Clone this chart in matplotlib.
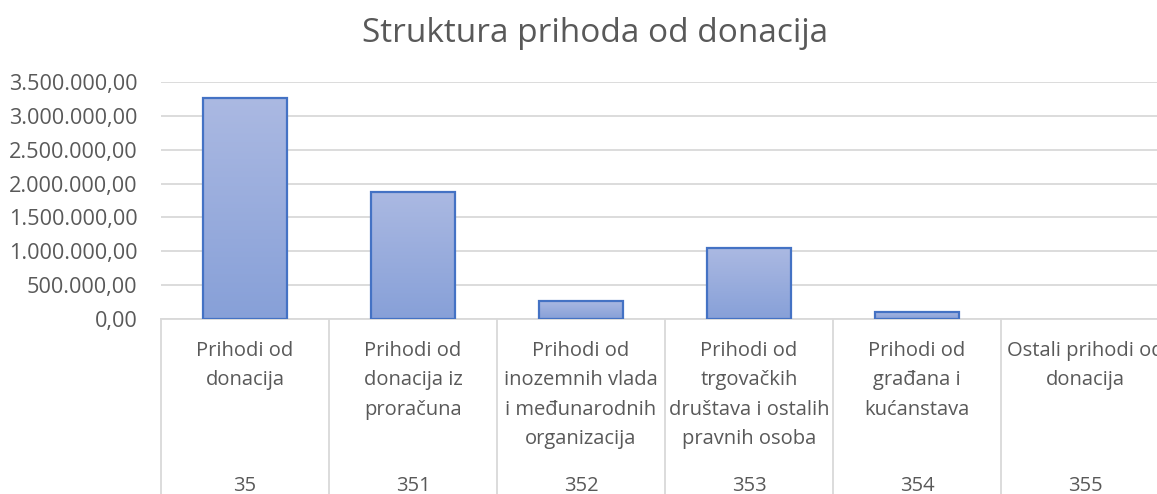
import matplotlib
matplotlib.use("Agg")
import matplotlib.pyplot as plt
import numpy as np
from matplotlib.ticker import FuncFormatter, MultipleLocator
from matplotlib.transforms import blended_transform_factory

codes = ["35", "351", "352", "353", "354", "355"]
names = ["Prihodi od\ndonacija",
         "Prihodi od\ndonacija iz\nproračuna",
         "Prihodi od\ninozemnih vlada\ni međunarodnih\norganizacija",
         "Prihodi od\ntrgovačkih\ndruštava i ostalih\npravnih osoba",
         "Prihodi od\ngrađana i\nkućanstava",
         "Ostali prihodi od\ndonacija"]
values = [3268000, 1880000, 270000, 1044000, 108000, 0]
title = "Struktura prihoda od donacija"

plt.rcParams['font.family'] = ['Open Sans', 'DejaVu Sans']
W, H = 1157, 494
fig = plt.figure(figsize=(W / 100, H / 100), dpi=100)
fig.patch.set_facecolor("white")

left_px, right_px, top_px, bot_px = 161, 1169, 82, 319
ax = fig.add_axes([left_px / W, (H - bot_px) / H, (right_px - left_px) / W, (bot_px - top_px) / H])

x = np.arange(len(values))
lws = [1.6 if v > 0 else 0 for v in values]
bars = ax.bar(x, values, width=0.5, color="none", edgecolor="#4472c4", linewidth=lws, zorder=3)

top_c = np.array([171, 185, 226]) / 255
bot_c = np.array([135, 160, 216]) / 255
grad = np.linspace(0, 1, 256)[:, None]
img = (top_c[None, None, :] * (1 - grad[:, :, None]) + bot_c[None, None, :] * grad[:, :, None])
for b in bars:
    h = b.get_height()
    if h <= 0:
        continue
    x0 = b.get_x()
    im = ax.imshow(img, extent=[x0, x0 + b.get_width(), 0, h], aspect="auto", origin="upper", zorder=2)
    im.set_clip_path(b)
ax.set_xlim(-0.5, len(values) - 0.5)
ax.set_ylim(0, 3500000)
ax.set_aspect("auto")

ax.yaxis.set_major_locator(MultipleLocator(500000))
ax.yaxis.set_major_formatter(FuncFormatter(lambda v, p: f"{v:,.2f}".replace(",", "X").replace(".", ",").replace("X", ".")))
ax.grid(axis="y", color="#d9d9d9", linewidth=1.3, zorder=0)
ax.set_axisbelow(True)
for s in ["top", "right", "left"]:
    ax.spines[s].set_visible(False)
ax.spines["bottom"].set_color("#d9d9d9")
ax.spines["bottom"].set_linewidth(1.3)
ax.tick_params(axis="y", length=0, pad=17, labelsize=15.6, labelcolor="#595959")
ax.set_xticks([])

# category separators
trans = ax.get_xaxis_transform()
for i in range(len(values) + 1):
    ax.plot([i - 0.5, i - 0.5], [0, -0.8], transform=trans, color="#d9d9d9", linewidth=1.3, clip_on=False)

btrans = blended_transform_factory(ax.transData, fig.transFigure)
for i, (n, c) in enumerate(zip(names, codes)):
    ax.text(i, (H - 341) / H, n, transform=btrans, ha="center", va="top", fontsize=14.5,
            color="#595959", linespacing=1.62, clip_on=False)
    ax.text(i, (H - 491) / H, c, transform=btrans, ha="center", va="baseline", fontsize=14.5,
            color="#595959", clip_on=False)

fig.text(595 / W, (H - 33) / H, title, ha="center", va="center", fontsize=24, color="#595959")

fig.savefig("out.png", dpi=100, facecolor="white")
